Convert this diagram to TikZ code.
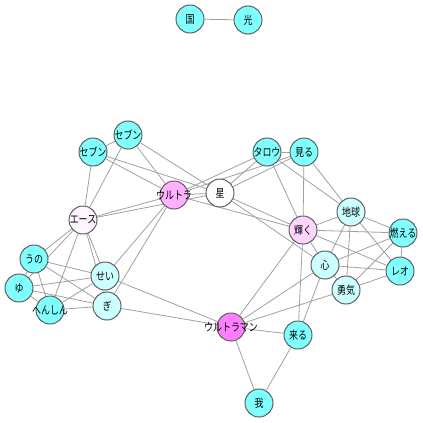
\documentclass[tikz,border=0pt]{standalone}
\usepackage{fontspec}
\usepackage{graphicx}
\newfontfamily\jpfont{Noto Sans CJK JP}
\usetikzlibrary{backgrounds}
\definecolor{cyA}{HTML}{80FFFF}
\definecolor{cyB}{HTML}{CCFFFF}
\definecolor{pkA}{HTML}{FF80FF}
\definecolor{pkB}{HTML}{FFB0FF}
\definecolor{pkC}{HTML}{FFD5FF}
\definecolor{pkD}{HTML}{FFF5FF}
\definecolor{edgec}{HTML}{A0A0A0}
\definecolor{rimc}{HTML}{606060}
\newcommand\sq[1]{\makebox[0pt]{\scalebox{0.8}[1]{#1}}}
\tikzset{
  vtx/.style={circle, draw=rimc, line width=0.5pt, minimum size=14pt, inner sep=0pt,
    font=\jpfont\fontsize{5.6}{5.6}\selectfont, text=black},
  cyan1/.style={vtx, fill=cyA},
  cyan2/.style={vtx, fill=cyB},
  pink1/.style={vtx, fill=pkA},
  pink2/.style={vtx, fill=pkB},
  pink3/.style={vtx, fill=pkC},
  pink4/.style={vtx, fill=pkD},
  white1/.style={vtx, fill=white},
  lnk/.style={draw=edgec, line width=0.4pt}
}
\begin{document}
\begin{tikzpicture}[x=0.5pt,y=-0.5pt]
\useasboundingbox (0,0) rectangle (423,423);
\node[cyan1] (koku) at (190,19) {\sq{国}};
\node[cyan1] (hikari) at (248,20) {\sq{光}};
\node[cyan1] (sevenA) at (128,135) {\sq{セブン}};
\node[cyan1] (sevenB) at (93,152) {\sq{セブン}};
\node[pink2] (ultra) at (174,195) {\sq{ウルトラ}};
\node[white1] (hoshi) at (220,193) {\sq{星}};
\node[cyan1] (taro) at (267,152) {\sq{タロウ}};
\node[cyan1] (miru) at (304,152) {\sq{見る}};
\node[pink4] (ace) at (83,220) {\sq{エース}};
\node[pink3] (kagayaku) at (303,230) {\sq{輝く}};
\node[cyan2] (chikyu) at (351,212) {\sq{地球}};
\node[cyan1] (moeru) at (403,233) {\sq{燃える}};
\node[cyan2] (kokoro) at (325,265) {\sq{心}};
\node[cyan1] (leo) at (400,271) {\sq{レオ}};
\node[cyan2] (yuki) at (346,290) {\sq{勇気}};
\node[cyan1] (uno) at (34,259) {\sq{うの}};
\node[cyan1] (yu) at (19,288) {\sq{ゆ}};
\node[cyan2] (sei) at (105,276) {\sq{せい}};
\node[cyan1] (henshin) at (50,310) {\sq{へんしん}};
\node[cyan2] (gi) at (107,306) {\sq{ぎ}};
\node[pink1] (ultraman) at (231,327) {\sq{ウルトラマン}};
\node[cyan1] (kuru) at (298,335) {\sq{来る}};
\node[cyan1] (ware) at (259,403) {\sq{我}};
\begin{pgfonlayer}{background}
\foreach \a/\b in {koku/hikari, sevenA/sevenB, sevenA/ultra, sevenA/hoshi, sevenA/ace,
  sevenB/ace, sevenB/ultra, sevenB/hoshi, ace/ultra, ace/hoshi, ace/uno, ace/yu,
  ace/henshin, ace/sei, ace/gi, uno/sei, uno/gi, uno/henshin, uno/yu, yu/sei, yu/gi,
  yu/henshin, henshin/sei, henshin/gi, sei/gi, ultra/sei, ultra/gi, sei/ultraman,
  gi/ultraman, ultra/hoshi, ultra/taro, ultra/miru, ultra/kagayaku, hoshi/taro,
  hoshi/miru, hoshi/kagayaku, hoshi/kokoro, taro/miru, taro/kagayaku, taro/chikyu,
  miru/kagayaku, miru/chikyu, kagayaku/chikyu, kagayaku/moeru, kagayaku/leo,
  kagayaku/kokoro, kagayaku/kuru, kagayaku/ultraman, chikyu/moeru, chikyu/leo,
  chikyu/kokoro, chikyu/yuki, moeru/leo, moeru/kokoro, moeru/yuki, kokoro/leo,
  yuki/leo, kokoro/yuki, kokoro/kuru, kokoro/ultraman, yuki/ultraman, kuru/ultraman,
  kuru/ware, ultraman/ware}
  \draw[lnk] (\a) -- (\b);
\end{pgfonlayer}
\end{tikzpicture}
\end{document}
